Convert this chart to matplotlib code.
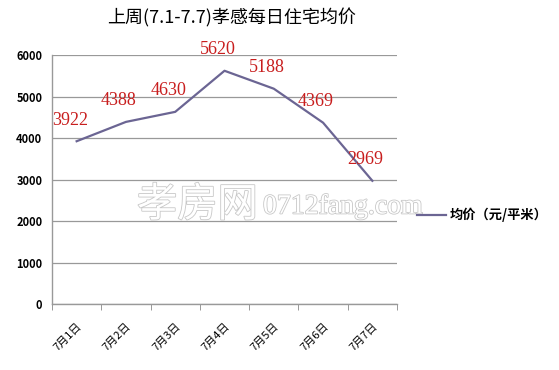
import matplotlib
matplotlib.use("Agg")
import matplotlib.pyplot as plt
import matplotlib.patheffects as pe
import numpy as np

plt.rcParams['font.family'] = ['Noto Sans CJK SC', 'DejaVu Sans']

title = "上周(7.1-7.7)孝感每日住宅均价"
categories = ["7月1日", "7月2日", "7月3日", "7月4日", "7月5日", "7月6日", "7月7日"]
prices = [3922, 4388, 4630, 5620, 5188, 4369, 2969]
series_name = "均价（元/平米）"
yticks = [0, 1000, 2000, 3000, 4000, 5000, 6000]

fig = plt.figure(figsize=(5.59, 3.70), dpi=100)
ax = fig.add_axes([52/559, 1-304/370, (397-52)/559, (304-55)/370])

x = np.arange(len(categories))
line, = ax.plot(x, prices, color='#6b6593', linewidth=1.6, label=series_name, zorder=3)

for xi, v in zip(x, prices):
    ax.annotate(str(v), (xi, v), xytext=(-7, 21), textcoords='offset pixels',
                ha='center', va='center', color='#c81e1e', fontsize=13,
                family=['Liberation Serif', 'DejaVu Serif'], zorder=4)

ax.set_xlim(-0.5, len(categories) - 0.5)
ax.set_ylim(0, 6000)
ax.set_yticks(yticks)
ax.set_yticklabels([str(t) for t in yticks], fontsize=8, fontweight='bold')
ax.yaxis.grid(True, color='#999999', linewidth=0.9)
ax.set_axisbelow(True)
ax.tick_params(axis='y', length=0, pad=7)

ax.set_xticks(x)
ax.set_xticklabels(categories, rotation=45, ha='right', rotation_mode='anchor',
                   fontsize=8)
ax.set_xticks(np.arange(len(categories) + 1) - 0.5, minor=True)
ax.tick_params(axis='x', which='major', length=0, pad=12)
ax.tick_params(axis='x', which='minor', length=4, color='#888888', direction='out')

for s in ['top', 'right']:
    ax.spines[s].set_visible(False)
for s in ['left', 'bottom']:
    ax.spines[s].set_color('#999999')
    ax.spines[s].set_linewidth(1.0)

fig.text(232/559, 1 - 18/370, title, ha='center', va='center', fontsize=13)

# watermark (outlined text)
wm_fx = [pe.Stroke(linewidth=1.2, foreground='#c8c8c8'), pe.Normal()]
fig.text(137/559, 1 - 205/370, "孝房网", fontsize=29, color='white',
         ha='left', va='center', path_effects=wm_fx, zorder=2)
fig.text(263/559, 1 - 207/370, "0712fang.com", fontsize=20, color='white',
         ha='left', va='center', family=['Liberation Serif'],
         path_effects=wm_fx, zorder=2)

fig.legend(handles=[line], loc='center left', bbox_to_anchor=(405/559, 1 - 215/370),
           frameon=False, handlelength=2.2, handletextpad=0.3,
           prop={'size': 9.5, 'weight': 'bold'})

fig.savefig("out.png", dpi=100)
